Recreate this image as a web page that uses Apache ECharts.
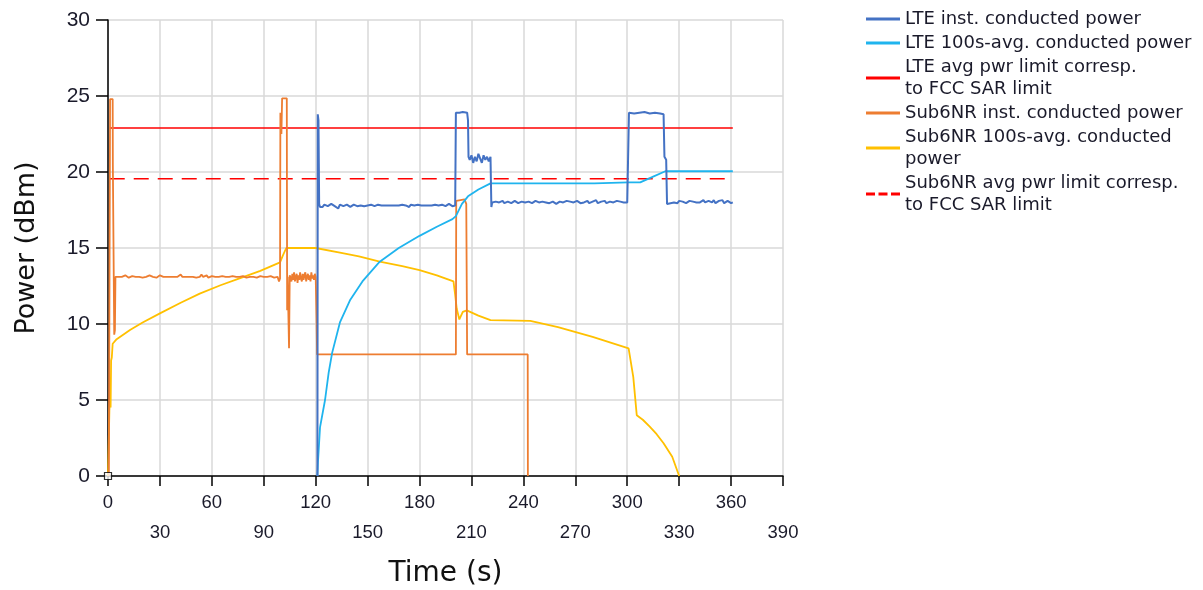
<!DOCTYPE html>
<html>
<head>
<meta charset="utf-8">
<script src="https://cdn.jsdelivr.net/npm/echarts@6/dist/echarts.min.js"></script>
<style>
html,body{margin:0;padding:0;background:#fff;}
#chart{width:1203px;height:590px;}
</style>
</head>
<body>
<div id="chart"></div>
<script>
// ---- data ----
const seriesNames = [
  'LTE inst. conducted power',
  'LTE 100s-avg. conducted power',
  'LTE avg pwr limit corresp.\nto FCC SAR limit',
  'Sub6NR inst. conducted power',
  'Sub6NR 100s-avg. conducted\npower',
  'Sub6NR avg pwr limit corresp.\nto FCC SAR limit'
];
const xTicks = [0,30,60,90,120,150,180,210,240,270,300,330,360,390];
const yTicks = [0,5,10,15,20,25,30];

// LTE instantaneous power: readings at 1 s steps inside the noisy plateaus
const lteNoiseA = [ // t = 123 .. 200
  17.8,17.7,17.85,17.8,17.75,17.8,17.9,17.8,17.75,17.8,17.6,17.85,17.8,17.75,17.8,17.85,17.8,17.7,17.8,17.85,
  17.8,17.75,17.8,17.8,17.85,17.75,17.8,17.8,17.7,17.85,17.8,17.75,17.8,17.85,17.8,17.8,17.75,17.8,17.85,17.8,
  17.7,17.8,17.85,17.8,17.75,17.8,17.8,17.85,17.75,17.8,17.8,17.7,17.85,17.8,17.8,17.75,17.85,17.8,17.8,17.75,
  17.8,17.85,17.8,17.7,17.8,17.8,17.85,17.75,17.8,17.8,17.85,17.8,17.75,17.8,17.9,17.8,17.75,17.8
];
const lteNoiseB = [ // t = 209 .. 221
  20.8,21.1,20.6,21.0,20.7,21.2,20.9,20.6,21.1,20.8,21.0,20.7,21.0
];
const lteNoiseC = [ // t = 223 .. 300
  18.0,18.05,17.95,18.0,18.0,18.1,17.95,18.0,18.05,18.0,17.95,18.0,18.1,18.0,17.95,18.0,18.05,18.0,18.0,17.9,
  18.05,18.0,17.95,18.0,18.1,18.0,18.0,17.95,18.05,18.0,18.0,18.1,17.95,18.0,18.05,18.0,17.9,18.0,18.05,18.0,
  18.0,17.95,18.1,18.0,18.05,17.95,18.0,18.0,18.1,18.0,17.95,18.05,18.0,18.0,18.1,17.95,18.0,18.05,18.0,18.15,
  17.95,18.0,18.05,18.0,18.1,17.95,18.0,18.05,18.15,18.0,17.95,18.1,18.0,18.05,18.15,18.0,18.05,18.0
];
const lteNoiseD = [ // t = 324 .. 361
  18.0,17.95,18.05,18.0,18.0,17.95,18.1,18.0,18.05,18.0,17.95,18.0,18.1,18.0,18.05,17.95,18.0,18.1,18.0,18.05,
  18.15,18.0,17.95,18.1,18.05,18.0,18.15,17.95,18.05,18.1,18.0,18.15,17.95,18.05,18.1,18.0,17.95,18.0
];
function seg(t0, vals) { return vals.map(function (v, i) { return [t0 + i, v]; }); }

const lteInst = [].concat(
  [[121,0],[121.2,23.8],[121.6,23.4],[122,17.9],[122.5,17.7]],
  seg(123, lteNoiseA),
  [[200.6,17.8],[201,23.9],[203,23.9],[205,23.95],[207.5,23.9],[208,23.4],[208.3,21.0]],
  seg(209, lteNoiseB),
  [[221.5,17.7],[222,18.0]],
  seg(223, lteNoiseC),
  [[300.6,18.0],[301,23.9],[304,23.85],[307,23.9],[310,23.95],[313,23.85],[316,23.9],[319,23.85],[321,23.8],
   [321.5,21.0],[322.5,20.8],[323,17.9]],
  seg(324, lteNoiseD)
);
const lteAvg = [
  [121,0],[121.3,0.9],[122.5,3.2],[125.4,5.0],[127.5,6.8],[129.5,8.1],[134,10.1],[140,11.6],[147,12.8],
  [157,14.1],[168,15.0],[180,15.8],[190,16.4],[199,16.9],[201,17.1],[204.5,17.9],[208,18.4],[214,18.85],
  [221,19.25],[281,19.25],[282,19.32],[300.5,19.32],[307.5,19.32],[315,19.7],[322,20.05],[361,20.05]
];
const lteLimit = [[1,22.9],[361,22.9]];

// Sub6NR instantaneous power
const nrNoiseA = [ // t = 6 .. 98, step 1
  13.1,13.15,13.1,13.1,13.2,13.1,13.05,13.1,13.15,13.1,13.1,13.2,13.1,13.1,13.05,13.15,13.1,13.1,13.2,13.1,
  13.1,13.15,13.05,13.1,13.2,13.1,13.1,13.15,13.1,13.05,13.1,13.2,13.1,13.15,13.1,13.1,13.25,13.1,13.05,13.1,
  13.15,13.1,13.2,13.1,13.1,13.05,13.15,13.1,13.25,13.1,13.1,13.2,13.05,13.1,13.15,13.1,13.1,13.2,13.1,13.05,
  13.15,13.1,13.1,13.2,13.1,13.1,13.15,13.05,13.1,13.2,13.1,13.1,13.15,13.1,13.05,13.1,13.1,13.15,13.1,13.1,
  13.05,13.1,13.15,13.1,13.1,13.05,13.1,13.1,13.15,13.1,13.05,13.1,13.1
];
const nrNoiseB = [ // t = 105.5 .. 120, step 0.5
  13.2,12.8,13.3,12.9,13.4,12.8,13.1,13.3,12.7,13.2,12.9,13.4,13.0,12.8,13.3,12.9,13.2,13.4,12.8,13.1,
  13.3,12.9,13.2,12.8,13.4,13.0,13.2,12.9,13.3,13.1
];
function segStep(t0, step, vals) { return vals.map(function (v, i) { return [t0 + i * step, v]; }); }
const nrInst = [].concat(
  [[0.5,0],[1.2,0],[1.2,24.8],[2.7,24.8],[2.8,20.5],[3.5,20.5],[3.6,9.3],[4.0,9.6],[4.3,13.1],[4.6,13.2]],
  seg(6, nrNoiseA),
  [[98.8,12.8],[99.4,13.0],[99.6,23.9],[100.2,22.5],[100.6,24.85],[103.3,24.85],[103.5,10.9],[103.8,13.1],
   [104.6,8.4],[105,13.2]],
  segStep(105.5, 0.5, nrNoiseB),
  [[120.3,13.0],[120.5,10.4],[120.8,8.0],
   [201,8.0],[201.2,18.1],[206,18.2],[207,17.9],[207.5,8.0],[233,8.0],[233.3,8.1],[233.6,8.0],[242.5,8.0],[242.6,0]]
);
const nrAvg = [
  [0,0],[0.8,4.3],[1.2,5.2],[1.5,4.5],[1.8,7.6],[2.2,7.8],[2.7,8.7],[5,9.0],[12.7,9.6],[20,10.1],[30,10.7],
  [42,11.4],[53,12.0],[65,12.55],[76,13.0],[88,13.5],[99.4,14.05],[101,14.5],[103,15.0],[120,15.0],[134,14.7],
  [145,14.45],[157,14.1],[170,13.8],[180,13.55],[190,13.2],[199.6,12.8],[200.5,12.0],[201.5,11.0],[203,10.3],
  [205,10.8],[207.3,10.9],[214,10.55],[221,10.25],[244,10.2],[260,9.8],[280,9.15],[300.8,8.4],[303.5,6.5],
  [305.5,4.0],[309,3.7],[313,3.25],[317,2.75],[321,2.15],[326,1.27],[330,0]
];
const nrLimit = [[1,19.55],[361,19.55]];
const origin = [[0,0]];

const colors = ['#4472C4','#1FB4EE','#FF0000','#ED7D31','#FFC000','#FF0000'];

// ---- chart ----
const chart = echarts.init(document.getElementById('chart'), null, {renderer:'canvas'});
function lineSeries(i, data, width, extra) {
  return Object.assign({
    name: seriesNames[i], type: 'line', data: data, showSymbol: false, symbol: 'none',
    animation: false, silent: true,
    lineStyle: {color: colors[i], width: width},
    itemStyle: {color: colors[i]}
  }, extra || {});
}
const solidIcon = 'path://M0,0h34v3h-34z';
const dashIcon = 'path://M0,0h9v3h-9z M12.5,0h9v3h-9z M25,0h9v3h-9z';
chart.setOption({
  animation: false,
  backgroundColor: '#ffffff',
  grid: {left: 108, right: 420, top: 20, bottom: 114, containLabel: false, outerBoundsMode: 'none'},
  legend: {
    orient: 'vertical', left: 861, top: 3, itemWidth: 34, itemHeight: 3, itemGap: 2,
    symbolKeepAspect: false,
    data: seriesNames.map(function (n, i) { return {name: n, icon: i === 5 ? dashIcon : solidIcon}; }),
    textStyle: {fontFamily: 'DejaVu Sans', fontSize: 18, color: '#1a1a2a', lineHeight: 22},
    selectedMode: false
  },
  xAxis: {
    type: 'value', min: 0, max: 390, interval: 30,
    name: 'Time (s)', nameLocation: 'middle', nameGap: 84,
    nameTextStyle: {fontFamily: 'DejaVu Sans', fontSize: 28, color: '#111'},
    axisLine: {show: true, lineStyle: {color: '#000', width: 1.5}},
    axisTick: {show: true, length: 10, lineStyle: {color: '#000', width: 1.5}},
    axisLabel: {
      margin: 12, fontFamily: 'Liberation Sans', fontSize: 18.5, color: '#1a1a2a', lineHeight: 30,
      formatter: function (v) { return (xTicks.indexOf(v) % 2 === 0) ? String(v) : '\n' + v; }
    },
    splitLine: {show: true, lineStyle: {color: '#D9D9D9', width: 1.5}}
  },
  yAxis: {
    type: 'value', min: 0, max: 30, interval: 5,
    name: 'Power (dBm)', nameLocation: 'middle', nameGap: 68, nameRotate: 90,
    nameTextStyle: {fontFamily: 'DejaVu Sans', fontSize: 27, color: '#111'},
    axisLine: {show: true, lineStyle: {color: '#000', width: 1.5}},
    axisTick: {show: true, length: 12, lineStyle: {color: '#000', width: 1.5}},
    axisLabel: {margin: 18, fontFamily: 'Liberation Sans', fontSize: 21, color: '#1a1a2a',
      formatter: function (v) { return yTicks.indexOf(v) >= 0 ? String(v) : ''; }},
    splitLine: {show: true, lineStyle: {color: '#D9D9D9', width: 1.5}}
  },
  series: [
    lineSeries(2, lteLimit, 1.5),
    lineSeries(5, nrLimit, 1.5, {lineStyle: {color: colors[5], width: 1.5, type: [15, 9]}}),
    lineSeries(4, nrAvg, 1.8),
    lineSeries(3, nrInst, 1.8),
    lineSeries(1, lteAvg, 1.8),
    lineSeries(0, lteInst, 2),
    {type: 'scatter', data: origin, symbol: 'rect', symbolSize: 7, silent: true, animation: false,
     itemStyle: {color: '#fff', borderColor: '#000', borderWidth: 1.2}, z: 10}
  ]
});
</script>
</body>
</html>
